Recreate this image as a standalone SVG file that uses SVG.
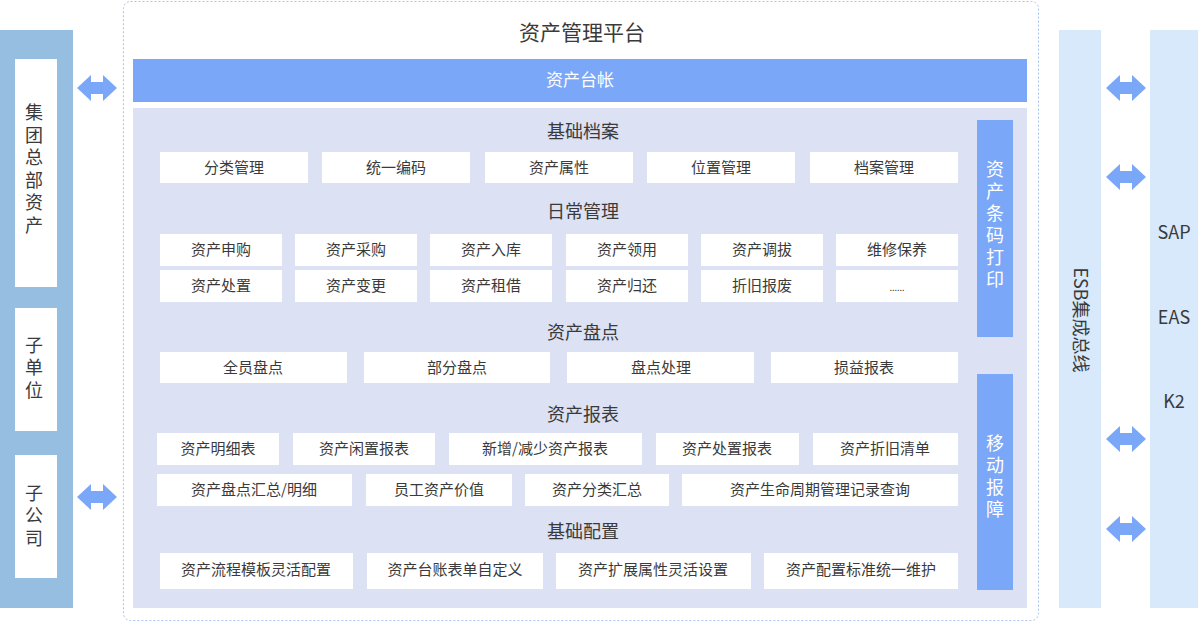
<svg xmlns="http://www.w3.org/2000/svg" width="1198" height="622" viewBox="0 0 1198 622">
<defs>
<style>
.t{font-family:"Noto Sans CJK SC","Liberation Sans",sans-serif;fill:#3a3a3a;text-anchor:middle;dominant-baseline:central;transform:translateY(-2px)}
.vt{font-family:"Noto Sans CJK SC","Liberation Sans",sans-serif;fill:#3a3a3a;text-anchor:middle;writing-mode:vertical-rl;text-orientation:upright;font-size:18px;letter-spacing:4.5px}
.bx{fill:#ffffff}
.b15{font-size:15px}
.h{font-size:18px}
.ar{fill:#7aa7f7}
</style>
<path id="arr" d="M0,0 L14,-13 L14,-6 L26,-6 L26,-13 L40,0 L26,13 L26,6 L14,6 L14,13 Z"/>
</defs>
<rect width="1198" height="622" fill="#ffffff"/>

<g id="left-column">
<rect x="0" y="30" width="73" height="578" fill="#95bee0"/>
<g id="node-hq">
<rect x="15" y="59" width="42" height="228" class="bx"/>
<text class="vt" x="34" y="171">集团总部资产</text>
</g>
<g id="node-sub-unit">
<rect x="15" y="308" width="42" height="123" class="bx"/>
<text class="vt" x="34" y="369.5">子单位</text>
</g>
<g id="node-sub-company">
<rect x="15" y="455" width="42" height="123" class="bx"/>
<text class="vt" x="34" y="517.5">子公司</text>
</g>
</g>

<g id="connectors">
<use href="#arr" class="ar" x="77" y="88"/>
<use href="#arr" class="ar" x="77" y="497"/>
<use href="#arr" class="ar" x="1106" y="88"/>
<use href="#arr" class="ar" x="1106" y="177"/>
<use href="#arr" class="ar" x="1106" y="439"/>
<use href="#arr" class="ar" x="1106" y="529"/>
</g>

<g id="platform">
<rect x="123.5" y="1.5" width="915" height="619" rx="7" fill="none" stroke="#a9c4f0" stroke-width="1" stroke-dasharray="2,2"/>
<text class="t" x="582" y="33" font-size="21">资产管理平台</text>
<g id="node-ledger">
<rect x="133" y="59" width="894" height="43" fill="#7aa7f7"/>
<text class="t" x="580" y="80" font-size="17" style="fill:#fff">资产台帐</text>
</g>
<rect x="133" y="108" width="894" height="500" fill="#dce1f3"/>

<g id="section-basic">
<text class="t h" x="583" y="132">基础档案</text>
<rect x="160" y="152" width="148" height="31" class="bx"/><text class="t b15" x="234" y="168">分类管理</text>
<rect x="322" y="152" width="148" height="31" class="bx"/><text class="t b15" x="396" y="168">统一编码</text>
<rect x="485" y="152" width="148" height="31" class="bx"/><text class="t b15" x="559" y="168">资产属性</text>
<rect x="647" y="152" width="148" height="31" class="bx"/><text class="t b15" x="721" y="168">位置管理</text>
<rect x="810" y="152" width="148" height="31" class="bx"/><text class="t b15" x="884" y="168">档案管理</text>
</g>

<g id="section-daily">
<text class="t h" x="583" y="212">日常管理</text>
<rect x="160" y="234" width="122" height="32" class="bx"/><text class="t b15" x="221" y="250">资产申购</text>
<rect x="295" y="234" width="122" height="32" class="bx"/><text class="t b15" x="356" y="250">资产采购</text>
<rect x="430" y="234" width="122" height="32" class="bx"/><text class="t b15" x="491" y="250">资产入库</text>
<rect x="566" y="234" width="122" height="32" class="bx"/><text class="t b15" x="627" y="250">资产领用</text>
<rect x="701" y="234" width="122" height="32" class="bx"/><text class="t b15" x="762" y="250">资产调拔</text>
<rect x="836" y="234" width="122" height="32" class="bx"/><text class="t b15" x="897" y="250">维修保养</text>
<rect x="160" y="270" width="122" height="32" class="bx"/><text class="t b15" x="221" y="286">资产处置</text>
<rect x="295" y="270" width="122" height="32" class="bx"/><text class="t b15" x="356" y="286">资产变更</text>
<rect x="430" y="270" width="122" height="32" class="bx"/><text class="t b15" x="491" y="286">资产租借</text>
<rect x="566" y="270" width="122" height="32" class="bx"/><text class="t b15" x="627" y="286">资产归还</text>
<rect x="701" y="270" width="122" height="32" class="bx"/><text class="t b15" x="762" y="286">折旧报废</text>
<rect x="836" y="270" width="122" height="32" class="bx"/><text class="t" x="897" y="289" font-size="9">......</text>
</g>

<g id="section-inventory">
<text class="t h" x="583" y="333">资产盘点</text>
<rect x="160" y="352" width="187" height="31" class="bx"/><text class="t b15" x="253" y="368">全员盘点</text>
<rect x="364" y="352" width="186" height="31" class="bx"/><text class="t b15" x="457" y="368">部分盘点</text>
<rect x="567" y="352" width="187" height="31" class="bx"/><text class="t b15" x="661" y="368">盘点处理</text>
<rect x="771" y="352" width="187" height="31" class="bx"/><text class="t b15" x="864" y="368">损益报表</text>
</g>

<g id="section-reports">
<text class="t h" x="583" y="415">资产报表</text>
<rect x="157" y="433" width="122" height="32" class="bx"/><text class="t b15" x="218" y="449">资产明细表</text>
<rect x="293" y="433" width="142" height="32" class="bx"/><text class="t b15" x="364" y="449">资产闲置报表</text>
<rect x="449" y="433" width="193" height="32" class="bx"/><text class="t b15" x="545" y="449">新增/减少资产报表</text>
<rect x="656" y="433" width="143" height="32" class="bx"/><text class="t b15" x="727" y="449">资产处置报表</text>
<rect x="813" y="433" width="145" height="32" class="bx"/><text class="t b15" x="885" y="449">资产折旧清单</text>
<rect x="157" y="474" width="195" height="32" class="bx"/><text class="t b15" x="254" y="490">资产盘点汇总/明细</text>
<rect x="366" y="474" width="146" height="32" class="bx"/><text class="t b15" x="439" y="490">员工资产价值</text>
<rect x="525" y="474" width="144" height="32" class="bx"/><text class="t b15" x="597" y="490">资产分类汇总</text>
<rect x="682" y="474" width="276" height="32" class="bx"/><text class="t b15" x="820" y="490">资产生命周期管理记录查询</text>
</g>

<g id="section-config">
<text class="t h" x="583" y="532">基础配置</text>
<rect x="160" y="553" width="193" height="36" class="bx"/><text class="t b15" x="256" y="570">资产流程模板灵活配置</text>
<rect x="367" y="553" width="176" height="36" class="bx"/><text class="t b15" x="455" y="570">资产台账表单自定义</text>
<rect x="556" y="553" width="195" height="36" class="bx"/><text class="t b15" x="653" y="570">资产扩展属性灵活设置</text>
<rect x="764" y="553" width="194" height="36" class="bx"/><text class="t b15" x="861" y="570">资产配置标准统一维护</text>
</g>

<g id="node-barcode">
<rect x="977" y="120" width="36" height="217" fill="#7aa7f7"/>
<text class="vt" x="995" y="226" style="fill:#fff;letter-spacing:4px">资产条码打印</text>
</g>
<g id="node-mobile">
<rect x="977" y="374" width="36" height="216" fill="#7aa7f7"/>
<text class="vt" x="995" y="478" style="fill:#fff;letter-spacing:4px">移动报障</text>
</g>
</g>

<g id="node-esb">
<rect x="1059" y="30" width="42" height="578" fill="#d8e9fb"/>
<text font-family="Noto Sans CJK SC, Liberation Sans, sans-serif" fill="#3a3a3a" text-anchor="middle" dominant-baseline="central" font-size="18" transform="translate(1082,320) rotate(90)" x="0" y="0">ESB集成总线</text>
</g>

<g id="node-systems">
<rect x="1150" y="30" width="48" height="578" fill="#d8e9fb"/>
<text class="t" font-size="18" x="1174" y="233">SAP</text>
<text class="t" font-size="18" x="1174" y="318">EAS</text>
<text class="t" font-size="18" x="1174" y="402">K2</text>
</g>
</svg>
